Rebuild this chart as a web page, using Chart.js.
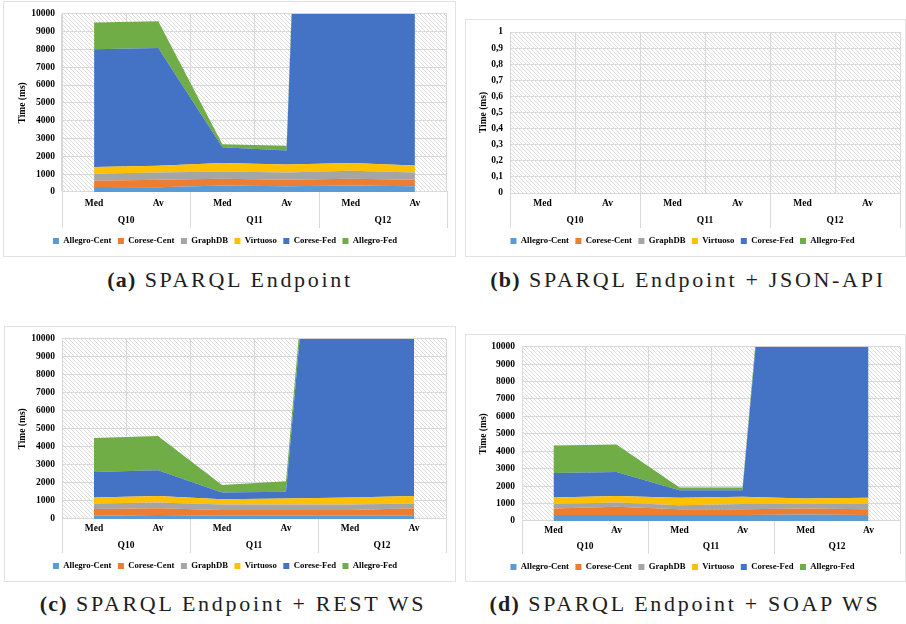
<!DOCTYPE html>
<html>
<head>
<meta charset="utf-8">
<script src="https://cdn.jsdelivr.net/npm/chart.js@4/dist/chart.umd.min.js"></script>
<style>
  html, body { margin: 0; padding: 0; background: #fff; width: 906px; height: 624px; overflow: hidden; }
  .box { position: absolute; outline: 1px solid #e2e2e2; outline-offset: -1px; }
  .box canvas { position: absolute; left: 0; top: 0; }
  .cap { position: absolute; width: 500px; text-align: center; font-family: 'Liberation Serif', 'Times New Roman', serif; font-size: 22px; letter-spacing: 2.7px; color: #1e1e1e; white-space: nowrap; line-height: 24px; }
  .cap b { letter-spacing: 1.2px; }
</style>
</head>
<body>
<div class="box" style="left:3px;top:1px;width:453px;height:256px"><canvas id="chartA" width="453" height="256"></canvas></div>
<div class="box" style="left:465px;top:19px;width:441px;height:238px"><canvas id="chartB" width="441" height="238"></canvas></div>
<div class="box" style="left:4px;top:326px;width:452px;height:256px"><canvas id="chartC" width="452" height="256"></canvas></div>
<div class="box" style="left:465px;top:334px;width:441px;height:248px"><canvas id="chartD" width="441" height="248"></canvas></div>

<div class="cap" style="left:-20px;top:268px"><b>(a)</b> SPARQL Endpoint</div>
<div class="cap" style="left:438px;top:268px"><b>(b)</b> SPARQL Endpoint + JSON-API</div>
<div class="cap" style="left:-17px;top:592px"><b>(c)</b> SPARQL Endpoint + REST WS</div>
<div class="cap" style="left:435px;top:592px"><b>(d)</b> SPARQL Endpoint + SOAP WS</div>

<script>
// ---------- data ----------
const categories = ['Med', 'Av', 'Med', 'Av', 'Med', 'Av'];
const groups = ['Q10', 'Q11', 'Q12'];
const seriesNames = ['Allegro-Cent', 'Corese-Cent', 'GraphDB', 'Virtuoso', 'Corese-Fed', 'Allegro-Fed'];

// (a) SPARQL Endpoint
const a_allegroCent = [280, 260, 370, 320, 370, 320];
const a_coreseCent  = [350, 430, 375, 370, 375, 370];
const a_graphDB     = [390, 410, 405, 410, 445, 410];
const a_virtuoso    = [380, 370, 470, 445, 430, 390];
const a_coreseFed   = [6600, 6610, 890, 785, 97000, 97000];
const a_allegroFed  = [1500, 1490, 170, 260, 2000, 2000];

// (b) SPARQL Endpoint + JSON-API (no data drawn)
const b_empty = [null, null, null, null, null, null];

// (c) SPARQL Endpoint + REST WS
const c_allegroCent = [180, 220, 180, 180, 180, 180];
const c_coreseCent  = [370, 370, 320, 320, 320, 410];
const c_graphDB     = [310, 330, 310, 310, 310, 270];
const c_virtuoso    = [330, 350, 290, 330, 380, 410];
const c_coreseFed   = [1410, 1430, 370, 370, 40000, 40000];
const c_allegroFed  = [1890, 1900, 410, 590, 1000, 1000];

// (d) SPARQL Endpoint + SOAP WS
const d_allegroCent = [340, 340, 340, 340, 380, 340];
const d_coreseCent  = [380, 480, 340, 340, 340, 340];
const d_graphDB     = [250, 240, 230, 290, 250, 290];
const d_virtuoso    = [380, 370, 420, 420, 320, 360];
const d_coreseFed   = [1410, 1380, 440, 380, 40000, 40000];
const d_allegroFed  = [1570, 1580, 150, 150, 1000, 1000];

// ---------- styles ----------
const seriesColors = ['#5B9BD5', '#ED7D31', '#A5A5A5', '#FFC000', '#4472C4', '#70AD47'];
const gridColor = '#d9d9d9';
const fontFamily = "'Liberation Serif', 'Times New Roman', serif";
const font = { family: fontFamily, weight: 'bold', size: 9.5 };
const legendFont = { family: fontFamily, weight: 'bold', size: 8.7 };
const legendPad = 6.5;

function makeHatch() {
  const s = 4;
  const c = document.createElement('canvas');
  c.width = s; c.height = s;
  const g = c.getContext('2d');
  g.fillStyle = '#ffffff'; g.fillRect(0, 0, s, s);
  g.strokeStyle = '#dedede'; g.lineWidth = 1;
  g.beginPath();
  g.moveTo(-1, -1); g.lineTo(s + 1, s + 1);
  g.moveTo(-1, s - 1); g.lineTo(1, s + 1);
  g.moveTo(s - 1, -1); g.lineTo(s + 1, 1);
  g.stroke();
  return c;
}
const hatchCanvas = makeHatch();

const hatchPlugin = {
  id: 'hatch',
  beforeDraw(chart) {
    const { ctx, chartArea: a } = chart;
    ctx.save();
    ctx.fillStyle = ctx.createPattern(hatchCanvas, 'repeat');
    ctx.fillRect(a.left, a.top, a.right - a.left, a.bottom - a.top);
    ctx.restore();
  }
};

// separators between the category groups and the group labels (Q10, Q11, Q12)
const groupAxisPlugin = {
  id: 'groupAxis',
  afterDraw(chart, args, opts) {
    const { ctx, chartArea: a } = chart;
    const x = chart.scales.x;
    const xs = [a.left,
      (x.getPixelForValue(1) + x.getPixelForValue(2)) / 2,
      (x.getPixelForValue(3) + x.getPixelForValue(4)) / 2,
      a.right];
    ctx.save();
    ctx.strokeStyle = gridColor; ctx.lineWidth = 1;
    ctx.beginPath();
    xs.forEach(px => {
      const p = Math.round(px) + 0.5;
      ctx.moveTo(p, a.bottom);
      ctx.lineTo(p, opts.bottomY);
    });
    ctx.stroke();
    ctx.fillStyle = '#000';
    ctx.font = `bold ${font.size}px ${fontFamily}`;
    ctx.textAlign = 'center';
    ctx.textBaseline = 'middle';
    groups.forEach((label, i) => {
      const cx = (x.getPixelForValue(2 * i) + x.getPixelForValue(2 * i + 1)) / 2;
      ctx.fillText(label, cx, opts.labelY);
    });
    ctx.restore();
  }
};

function buildDatasets(arrays) {
  return arrays.map((arr, i) => ({
    label: seriesNames[i],
    data: arr,
    backgroundColor: seriesColors[i],
    borderColor: seriesColors[i],
    borderWidth: 0,
    pointRadius: 0,
    tension: 0,
    fill: i === 0 ? 'origin' : '-1'
  }));
}

function makePanel(id, arrays, g) {
  const canvas = document.getElementById(id);
  const w = canvas.width, h = canvas.height;
  const xPad = g.medY - g.plotBottom - 5.7;
  const legendTop = g.legY - legendPad - legendFont.size / 2;
  const hx = legendTop - g.plotBottom;
  const legendH = legendFont.size + legendPad + 10;
  const padBottom = Math.max(0, h - (legendTop + legendH));
  new Chart(canvas, {
    type: 'line',
    data: { labels: categories, datasets: buildDatasets(arrays) },
    plugins: [hatchPlugin, groupAxisPlugin],
    options: {
      responsive: false,
      animation: false,
      layout: { padding: { left: 0, right: w - g.plotRight, top: g.plotTop, bottom: padBottom } },
      scales: {
        x: {
          offset: true,
          grid: { offset: true, color: gridColor, drawTicks: false },
          border: { color: gridColor },
          ticks: { font, color: '#000', padding: xPad, maxRotation: 0, autoSkip: false },
          afterFit(s) { s.height = hx; }
        },
        y: {
          stacked: true,
          min: 0,
          max: g.yMax,
          ticks: { stepSize: g.yStep, font, color: '#000', padding: 7, callback: g.fmt },
          grid: { color: gridColor, drawTicks: false },
          border: { color: gridColor },
          title: { display: true, text: 'Time (ms)', font, color: '#000', padding: { top: g.titleX - 5.7, bottom: 0 } },
          afterFit(s) { s.width = g.plotLeft; }
        }
      },
      plugins: {
        legend: {
          position: 'bottom',
          labels: { boxWidth: 6, boxHeight: 6, padding: legendPad, font: legendFont, color: '#000' }
        },
        tooltip: { enabled: false },
        groupAxis: { bottomY: g.qY + 7, labelY: g.qY }
      }
    }
  });
}

const fmtInt = v => String(v);
const fmtDec = v => String(Math.round(v * 10) / 10).replace('.', ',');

makePanel('chartA',
  [a_allegroCent, a_coreseCent, a_graphDB, a_virtuoso, a_coreseFed, a_allegroFed],
  { plotLeft: 59, plotRight: 444, plotTop: 12, plotBottom: 191, medY: 203, qY: 220, legY: 240, titleX: 20, yMax: 10000, yStep: 1000, fmt: fmtInt });

makePanel('chartB',
  [b_empty, b_empty, b_empty, b_empty, b_empty, b_empty],
  { plotLeft: 45, plotRight: 435, plotTop: 13, plotBottom: 174, medY: 185, qY: 202, legY: 222, titleX: 19, yMax: 1, yStep: 0.1, fmt: fmtDec });

makePanel('chartC',
  [c_allegroCent, c_coreseCent, c_graphDB, c_virtuoso, c_coreseFed, c_allegroFed],
  { plotLeft: 58, plotRight: 442, plotTop: 12, plotBottom: 193, medY: 203, qY: 220, legY: 240, titleX: 19, yMax: 10000, yStep: 1000, fmt: fmtInt });

makePanel('chartD',
  [d_allegroCent, d_coreseCent, d_graphDB, d_virtuoso, d_coreseFed, d_allegroFed],
  { plotLeft: 57, plotRight: 435, plotTop: 12, plotBottom: 187, medY: 197, qY: 213, legY: 233, titleX: 19, yMax: 10000, yStep: 1000, fmt: fmtInt });
</script>
</body>
</html>
